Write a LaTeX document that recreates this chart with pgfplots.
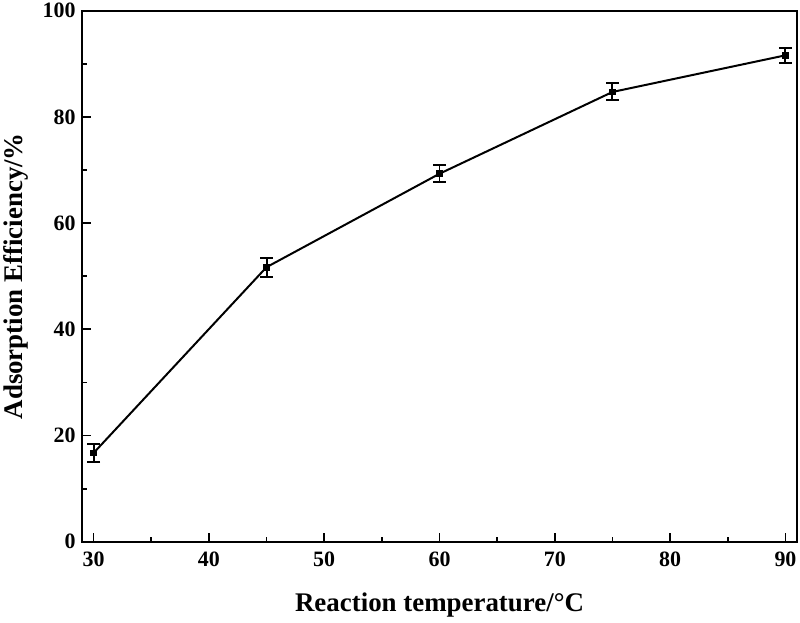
\documentclass[border=0pt]{standalone}
\usepackage{fontspec}
\setmainfont{Liberation Serif}
\usepackage{pgfplots}
\pgfplotsset{compat=1.18}
\begin{document}
\begin{tikzpicture}
\begin{axis}[
  width=715bp, height=531bp, scale only axis,
  xmin=29, xmax=91, ymin=0, ymax=100,
  xtick={30,40,...,90}, ytick={0,20,...,100},
  minor x tick num=1, minor y tick num=1,
  tick align=inside, tick pos=left,
  major tick length=9bp, minor tick length=5bp,
  axis line style={line width=2.4pt},
  every tick/.style={line width=1.8pt, black},
  tick label style={font=\bfseries\fontsize{22}{24}\selectfont},
  xticklabel style={yshift=-7bp},
  yticklabel style={xshift=-3bp},
  /pgf/number format/assume math mode=true,
  xlabel={Reaction temperature/°C},
  ylabel={Adsorption Efficiency/\%},
  label style={font=\bfseries\fontsize{27}{30}\selectfont},
  xlabel style={at={([yshift=-70bp]axis description cs:0.5,0)}, anchor=base},
  ylabel style={at={([xshift=-66bp]axis description cs:0,0.5)}, anchor=center},
]
\addplot[black, line width=2pt, mark=square*, mark size=2.4pt,
  error bars/.cd, y dir=both, y explicit,
  error bar style={line width=2pt},
  error mark options={rotate=90, mark size=6.5pt, line width=2pt}]
coordinates {
  (30,16.7) +- (0,1.7)
  (45,51.7) +- (0,1.8)
  (60,69.3) +- (0,1.6)
  (75,84.7) +- (0,1.6)
  (90,91.6) +- (0,1.4)
};
\end{axis}
\path ([shift={(-82bp,-81bp)}]current axis.south west) rectangle ++(800bp,621bp);
\end{tikzpicture}
\end{document}
